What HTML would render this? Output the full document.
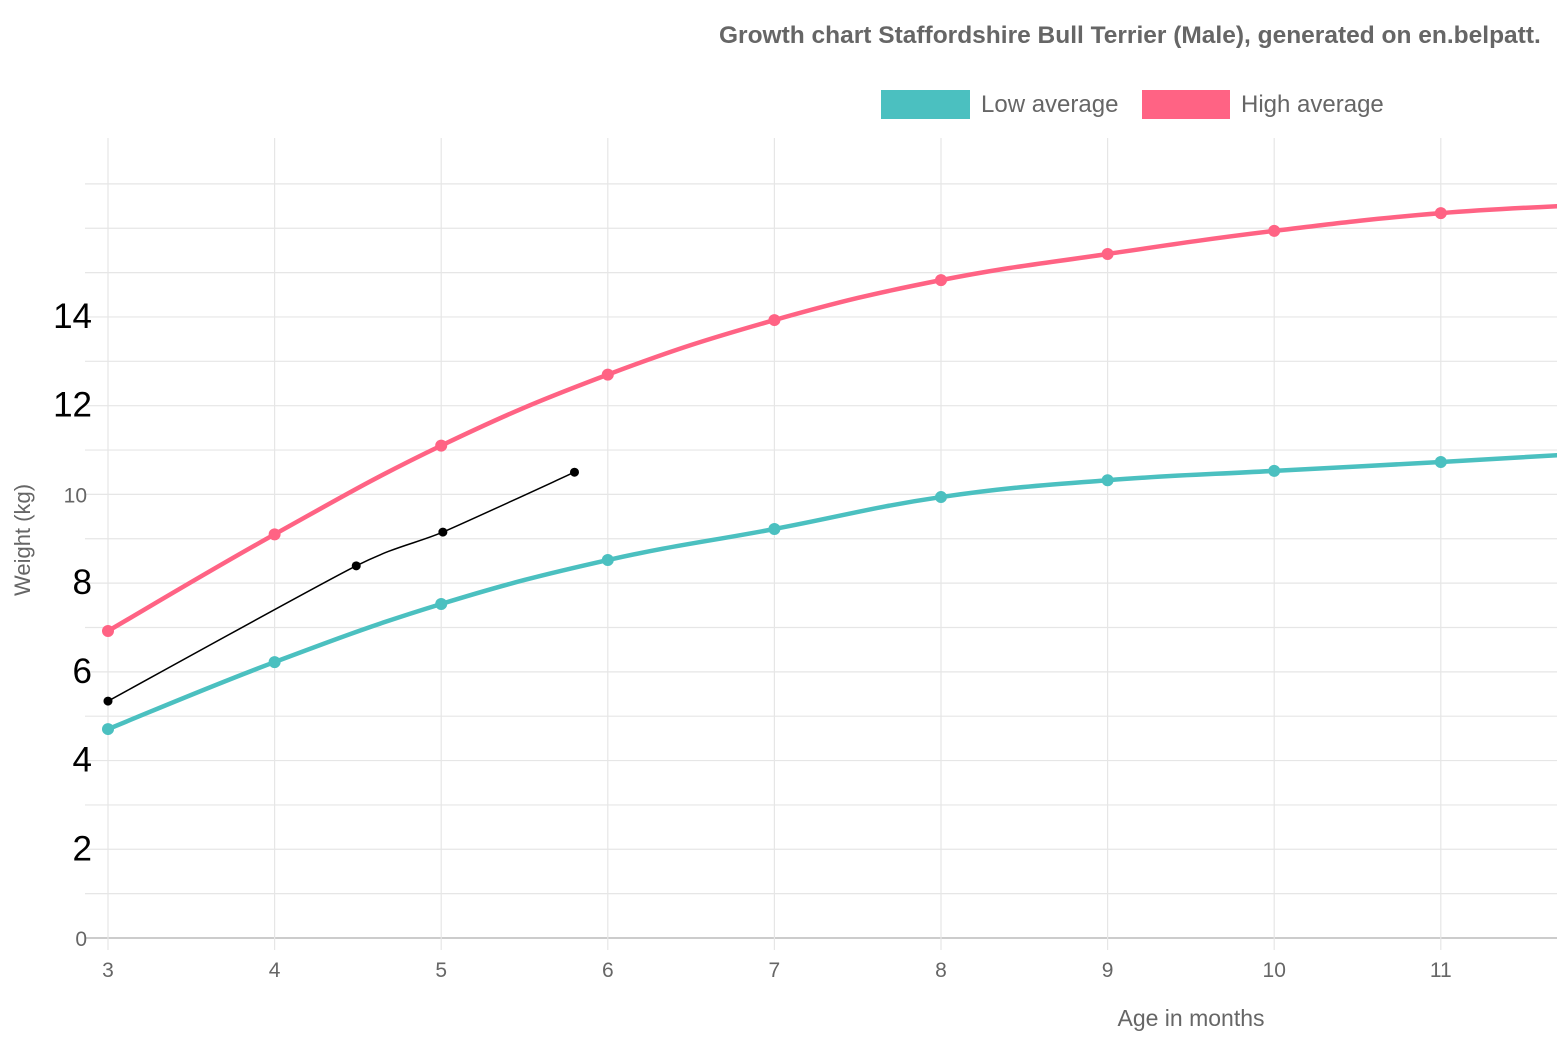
<!DOCTYPE html>
<html><head><meta charset="utf-8"><style>
body{margin:0;background:#fff;width:1557px;height:1043px;overflow:hidden;font-family:"Liberation Sans",Arial,sans-serif}
</style></head><body>
<svg id="chart" width="1557" height="1043" xmlns="http://www.w3.org/2000/svg" font-family="Liberation Sans, Arial, sans-serif">
<text x="719" y="43" font-size="24.5" font-weight="bold" fill="#666">Growth chart Staffordshire Bull Terrier (Male), generated on en.belpatt.</text>
<g>
<rect x="881" y="90" width="89" height="29" fill="#4bc0c0"/>
<text x="981" y="112" font-size="24" fill="#666">Low average</text>
<rect x="1142" y="90" width="88" height="29" fill="#ff6384"/>
<text x="1241" y="112" font-size="24" fill="#666">High average</text>
</g>
<g id="grid"></g>
<g id="axes"></g>
<g id="series"></g>
<text transform="translate(30,540) rotate(-90)" text-anchor="middle" font-size="22" fill="#666">Weight (kg)</text>
<text x="1191" y="1026" text-anchor="middle" font-size="23" fill="#666">Age in months</text>
</svg>
<script>
const months=[3,4,5,6,7,8,9,10,11,12];
const highAvg=[6.92,9.1,11.1,12.7,13.93,14.83,15.42,15.94,16.34,16.55];
const lowAvg=[4.71,6.22,7.53,8.52,9.22,9.94,10.32,10.53,10.73,10.95];
const dogAge=[3,4.49,5.01,5.8];
const dogWeight=[5.34,8.39,9.15,10.5];
const xTicks=[3,4,5,6,7,8,9,10,11];
const yTicks=[0,2,4,6,8,10,12,14];
const yTickBig=[false,true,true,true,true,false,true,true];

const NS="http://www.w3.org/2000/svg";
const xs=m=>108+(m-3)*166.6;
const ys=v=>938-v*44.36;
function mk(tag,attrs,parent){const e=document.createElementNS(NS,tag);for(const k in attrs)e.setAttribute(k,attrs[k]);parent.appendChild(e);return e;}
const grid=document.getElementById('grid'),axes=document.getElementById('axes'),series=document.getElementById('series');
for(let v=0;v<=17;v++){
  const l=mk('line',{x1:85,x2:1557,y1:ys(v),y2:ys(v),stroke:v===0?'#ccc':'#e6e6e6','stroke-width':v===0?2:1.2},grid);
  
  
}
xTicks.forEach(m=>{
  const l=mk('line',{x1:xs(m),x2:xs(m),y1:138,y2:950,stroke:'#e6e6e6','stroke-width':1.2},grid);
  
  
  const t=mk('text',{x:xs(m),y:977,'text-anchor':'middle','font-size':21,fill:'#666'},axes);
  t.textContent=m;
  
  
});
yTicks.forEach((v,i)=>{
  const big=yTickBig[i];
  const t=mk('text',{x:big?92:87,y:ys(v)+(big?11:8),'text-anchor':'end','font-size':big?35:21,fill:big?'#000':'#666'},axes);
  t.textContent=v;
  
  
});
function path(px,py,t){
  let d=`M${px[0]},${py[0]}`;
  for(let i=0;i<px.length-1;i++){
    const p0=i?i-1:i,p3=i+2<px.length?i+2:i+1;
    const c1x=px[i]+(px[i+1]-px[p0])*t,c1y=py[i]+(py[i+1]-py[p0])*t;
    const c2x=px[i+1]-(px[p3]-px[i])*t,c2y=py[i+1]-(py[p3]-py[i])*t;
    d+=` C${c1x},${c1y} ${c2x},${c2y} ${px[i+1]},${py[i+1]}`;
  }
  return d;
}
function draw(xv,yv,color,w,r,name,t){
  const px=xv.map(xs),py=yv.map(ys);
  const p=mk('path',{d:path(px,py,t),fill:'none',stroke:color,'stroke-width':w},series);
  
  
  px.forEach((x,i)=>{
    const c=mk('circle',{cx:x,cy:py[i],r:r,fill:color},series);
    
    
  });
}
draw(months,highAvg,'#ff6384',4.5,6,'high-average',0.2);
draw(months,lowAvg,'#4bc0c0',4.5,6,'low-average',0.2);
draw(dogAge,dogWeight,'#000',1.5,4.5,'dog-weight',0.12);
</script>
</body></html>
